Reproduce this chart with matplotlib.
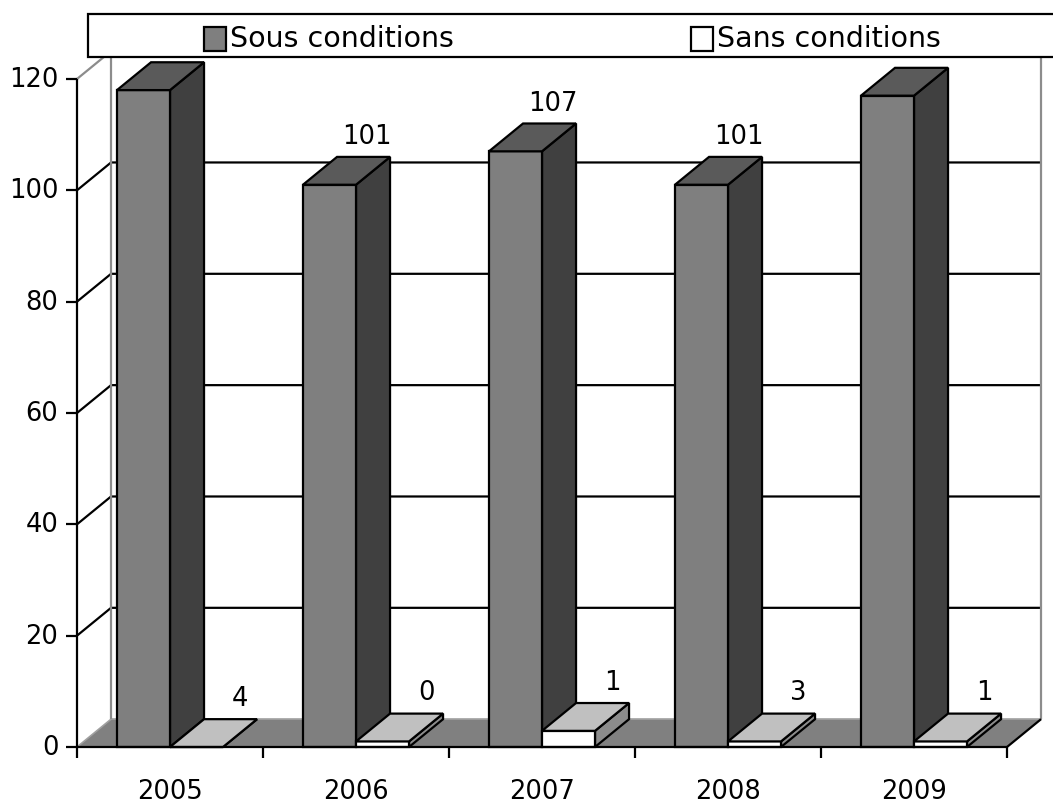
import matplotlib
matplotlib.use("Agg")
import matplotlib.pyplot as plt
from matplotlib.patches import Polygon, Rectangle

years = ["2005", "2006", "2007", "2008", "2009"]
sous = [118, 101, 107, 101, 117]
# 2005 and 2009 labels are hidden behind the legend in the original
sous_labels = ["", "101", "107", "101", ""]
sans = [0, 1, 2.9, 1, 1]
sans_labels = ["4", "0", "1", "3", "1"]
y_ticks = [0, 20, 40, 60, 80, 100, 120]
series_names = ["Sous conditions", "Sans conditions"]

plt.rcParams["font.family"] = ["DejaVu Sans"]
FS = 18.5

# pseudo 3d geometry (data units)
dx, dy = 0.183, 5.0
gap, bw = 0.215, 0.285
ymax = 120
n = len(years)

fig = plt.figure(figsize=(10.53, 8.04), dpi=100)
ax = fig.add_axes([0, 0, 1, 1])
ax.set_xlim(-77 / 186, (1053 - 77) / 186)
ax.set_ylim(-56 / 5.567, 748 / 5.567)
ax.axis("off")

blk = dict(color="black", lw=1.6, solid_capstyle="butt")
gry = dict(color="#8c8c8c", lw=1.6, solid_capstyle="butt")

# floor
ax.add_patch(Polygon([(0, 0), (n, 0), (n + dx, dy), (dx, dy)],
                     closed=True, fc="#808080", ec="none", zorder=1))
ax.plot([0, dx], [0, dy], color="#a0a0a0", lw=1.2, zorder=1.5)
ax.plot([dx, n + dx], [dy, dy], color="#a0a0a0", lw=1.2, zorder=1.5)
ax.plot([n, n + dx], [0, dy], zorder=2, **blk)

# walls
ax.plot([dx, dx], [dy, ymax + dy], zorder=1.5, **gry)
ax.plot([0, dx], [ymax, ymax + dy], zorder=1.5, **gry)
ax.plot([n + dx, n + dx], [dy, ymax + dy], zorder=1.5, **gry)
for v in y_ticks[1:-1]:
    ax.plot([0, dx, n + dx], [v, v + dy, v + dy], zorder=1.4, **blk)

# axes lines and ticks
ax.plot([0, 0], [0, ymax], zorder=2, **blk)
ax.plot([0, n], [0, 0], zorder=20, **blk)
for v in y_ticks:
    ax.plot([-0.06, 0], [v, v], zorder=2, **blk)
    ax.text(-0.1, v, str(v), ha="right", va="center", fontsize=FS)
for i in range(n + 1):
    ax.plot([i, i], [0, -1.9], zorder=2, **blk)
for i, yr in enumerate(years):
    ax.text(i + 0.5, -7.9, yr, ha="center", va="center", fontsize=FS)


def bar3d(x0, h, front, top, side, z):
    kw = dict(ec="black", lw=1.6, joinstyle="miter", closed=True)
    ax.add_patch(Polygon([(x0 + bw, 0), (x0 + bw + dx, dy),
                          (x0 + bw + dx, h + dy), (x0 + bw, h)],
                         fc=side, zorder=z, **kw))
    ax.add_patch(Rectangle((x0, 0), bw, h, fc=front, ec="black", lw=1.6,
                           joinstyle="miter", zorder=z + 0.1))
    ax.add_patch(Polygon([(x0, h), (x0 + bw, h), (x0 + bw + dx, h + dy),
                          (x0 + dx, h + dy)], fc=top, zorder=z + 0.2, **kw))


for i in range(n):
    x0 = i + gap
    bar3d(x0, sous[i], "#7f7f7f", "#5a5a5a", "#404040", 3 + i)
    bar3d(x0 + bw, sans[i], "white", "#c0c0c0", "#8c8c8c", 3.5 + i)
    if sous_labels[i]:
        ax.text(i + 0.56, sous[i] + 8.7, sous_labels[i], ha="center",
                va="center", fontsize=FS, zorder=2)
    ax.text(x0 + bw * 1.5 + 0.235, sans[i] + 8.8, sans_labels[i],
            ha="center", va="center", fontsize=FS, zorder=2)

# legend box (runs off the right edge like the original)
tr = fig.transFigure
W, H = 1053, 804
fig.patches.append(Rectangle((88 / W, 1 - 58 / H), 1.0, 43 / H, transform=tr,
                             fc="white", ec="black", lw=1.6, zorder=50))
sw = [(204, "#7f7f7f"), (691, "white")]
for (xp, c), name in zip(sw, series_names):
    fig.patches.append(Rectangle((xp / W, 1 - 52 / H), 22 / W, 24 / H,
                                 transform=tr, fc=c, ec="black", lw=1.6,
                                 zorder=51))
    fig.text((xp + 26) / W, 1 - 39 / H, name, ha="left", va="center",
             fontsize=20.5, zorder=52)

fig.savefig("out.png", dpi=100)
